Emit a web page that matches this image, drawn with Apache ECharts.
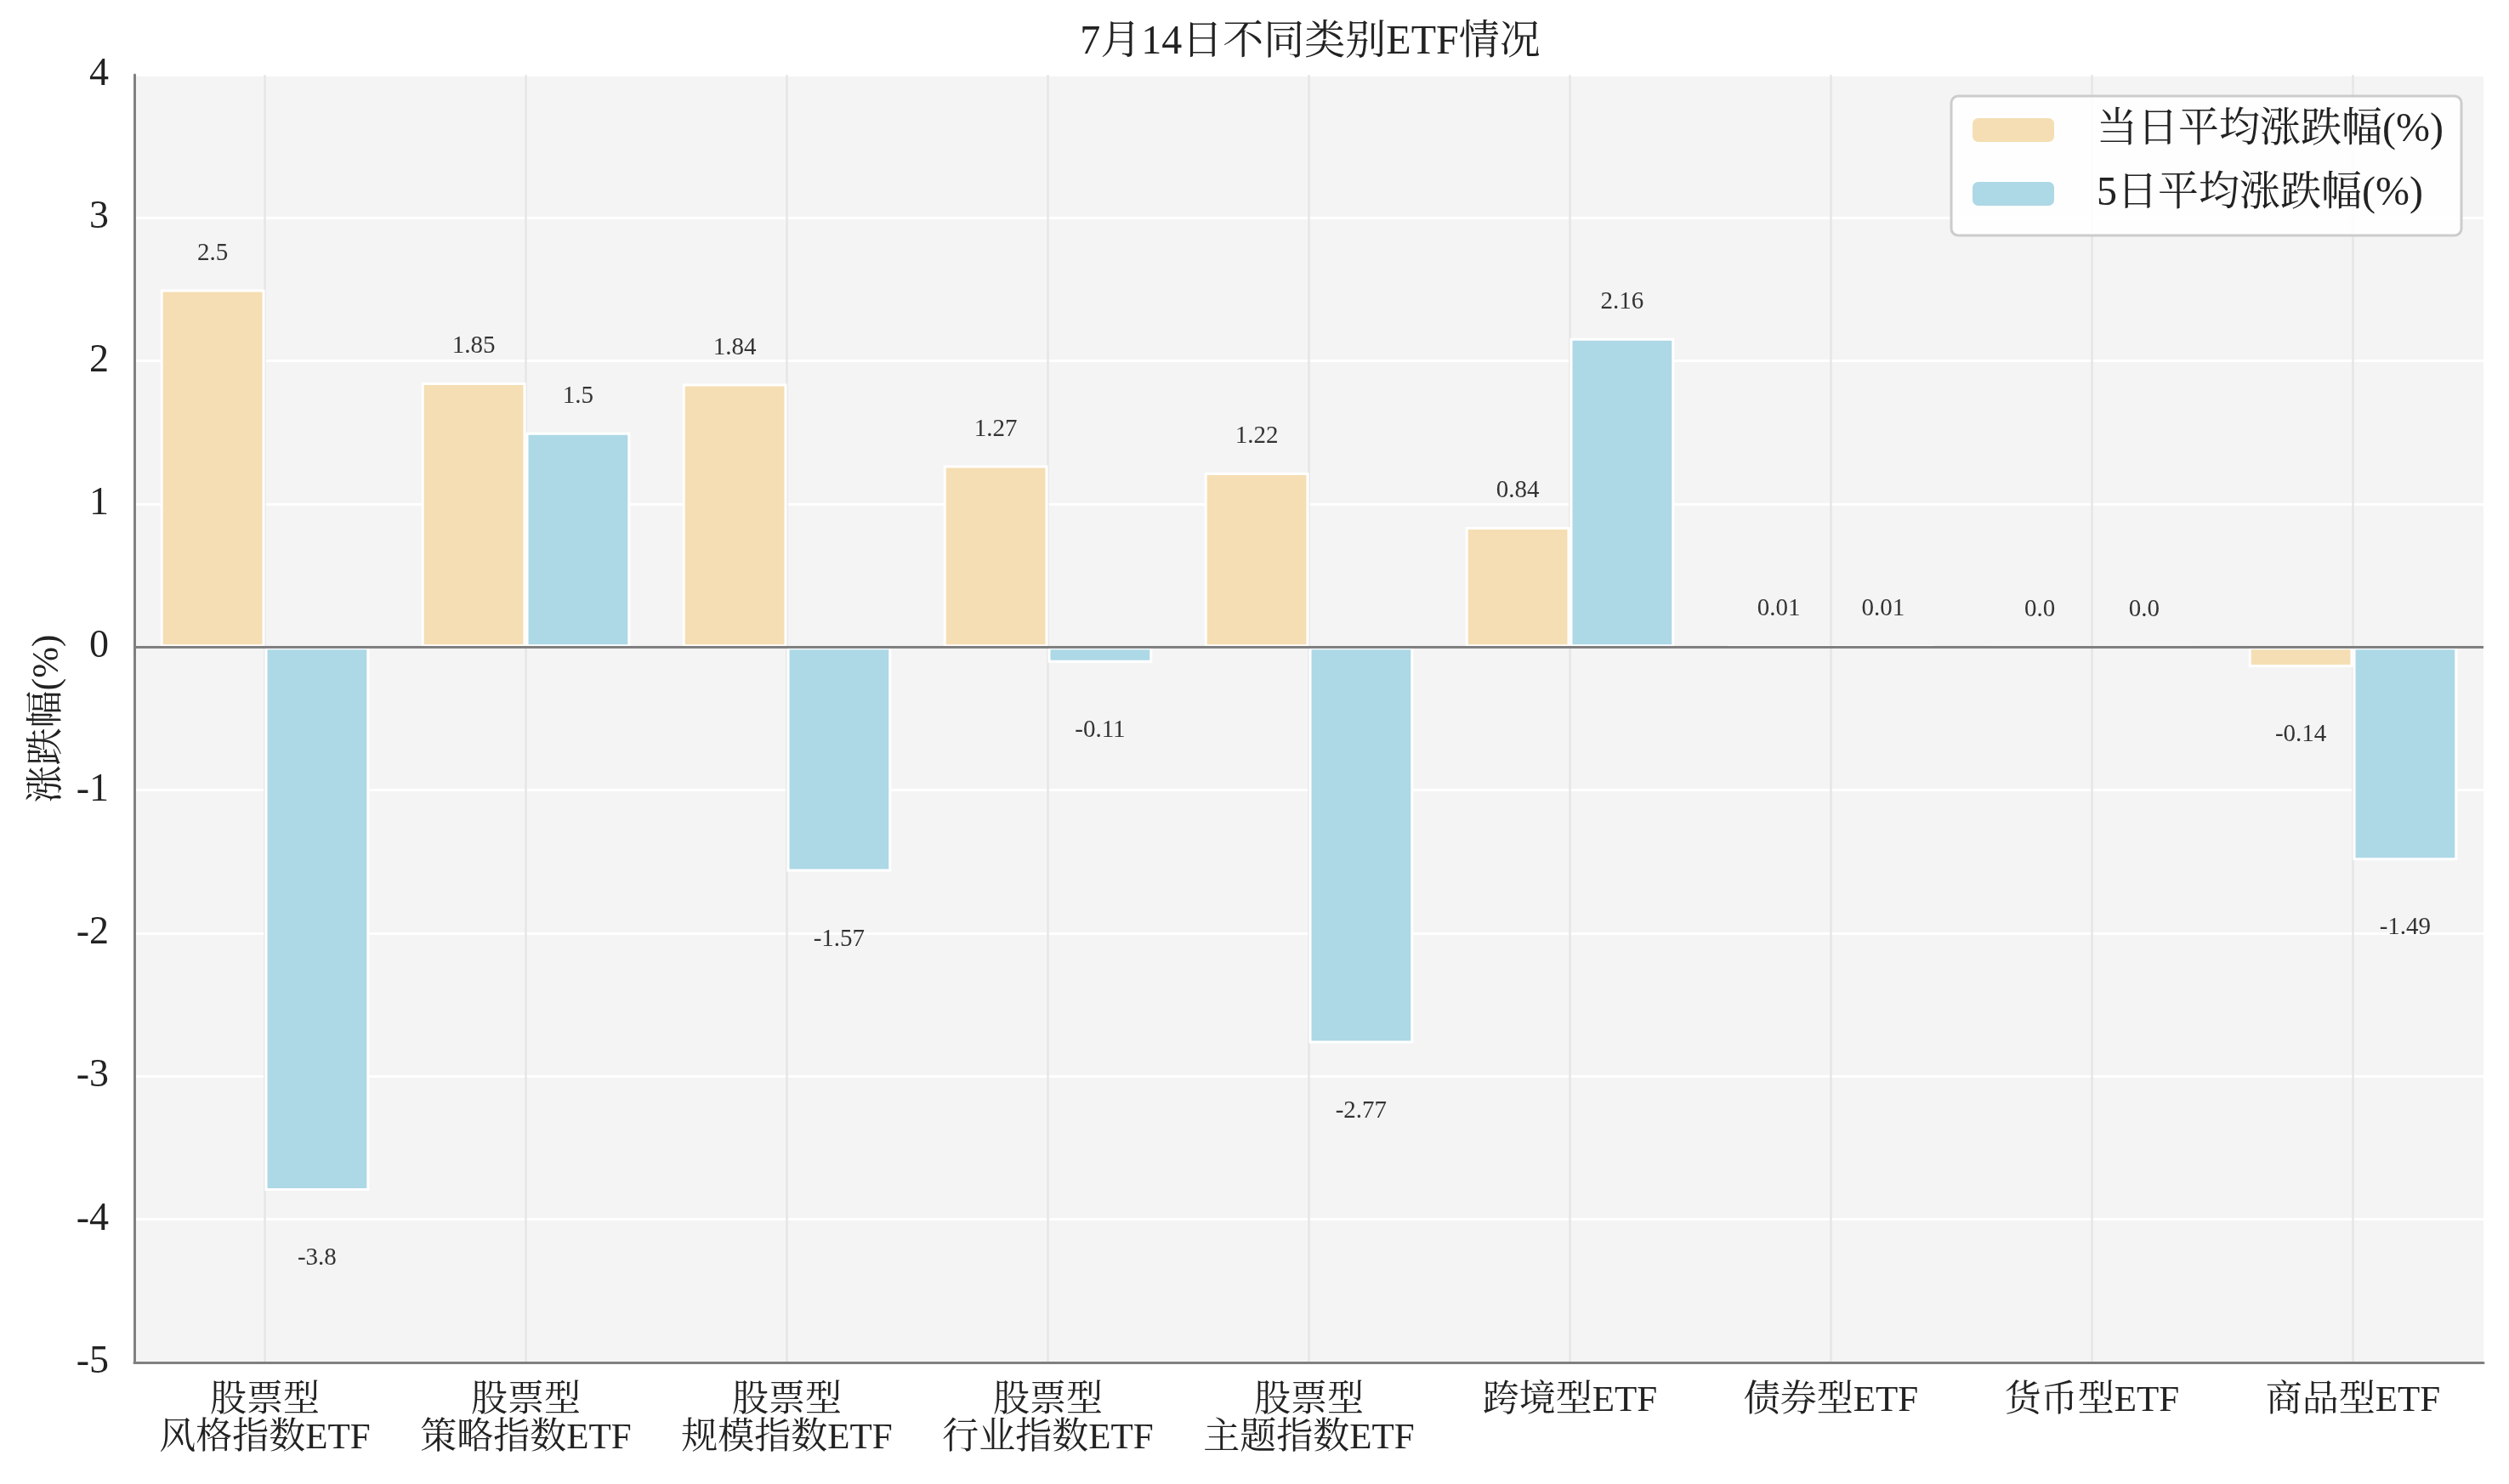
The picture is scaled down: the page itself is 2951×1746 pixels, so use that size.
<!DOCTYPE html>
<html>
<head>
<meta charset="utf-8">
<script src="https://cdn.jsdelivr.net/npm/echarts@6/dist/echarts.min.js"></script>
<style>
html,body{margin:0;padding:0;background:#fff;}
#chart{width:2951px;height:1746px;}
</style>
</head>
<body>
<div id="chart"></div>
<script>
const categories = ['股票型\n风格指数ETF','股票型\n策略指数ETF','股票型\n规模指数ETF','股票型\n行业指数ETF','股票型\n主题指数ETF','跨境型ETF','债券型ETF','货币型ETF','商品型ETF'];
const dailyAvg = [2.5, 1.85, 1.84, 1.27, 1.22, 0.84, 0.01, 0.0, -0.14];
const fiveDayAvg = [-3.8, 1.5, -1.57, -0.11, -2.77, 2.16, 0.01, 0.0, -1.49];
const seriesNames = ['当日平均涨跌幅(%)', '5日平均涨跌幅(%)'];
const yTicks = {min: -5, max: 4, interval: 1};
const titleText = '7月14日不同类别ETF情况';
const yName = '涨跌幅(%)';

const FONT = "'Liberation Serif', 'Noto Serif CJK SC', 'Noto Sans CJK SC', serif";

function fmt(v){ return Number.isInteger(v) ? v.toFixed(1) : String(v); }

function makeData(arr){
  return arr.map(v => ({
    value: v,
    label: v < 0 ? {position: 'bottom', distance: 65} : {position: 'top', distance: 28}
  }));
}

const labelCommon = {
  show: true,
  fontFamily: FONT,
  fontSize: 29,
  color: '#333',
  formatter: p => fmt(p.value)
};

const chart = echarts.init(document.getElementById('chart'), null, {renderer: 'canvas'});
chart.setOption({
  animation: false,
  backgroundColor: '#ffffff',
  textStyle: {fontFamily: FONT},
  title: {
    text: titleText,
    left: 1536, textAlign: 'center',
    top: 21,
    textStyle: {fontFamily: FONT, fontSize: 48, fontWeight: 'normal', color: '#222'}
  },
  legend: {
    orient: 'vertical',
    right: 56, top: 113,
    itemWidth: 98, itemHeight: 30,
    itemGap: 25,
    padding: [15, 21, 24, 23],
    backgroundColor: 'rgba(255,255,255,0.85)',
    borderColor: '#cccccc', borderWidth: 3, borderRadius: 8,
    textStyle: {fontFamily: FONT, fontSize: 48, lineHeight: 50, color: '#222', padding: [0, 0, 0, 44]},
    data: seriesNames
  },
  grid: {left: 158, right: 30, top: 88, bottom: 143, show: true, backgroundColor: '#f4f4f4', borderWidth: 0},
  xAxis: {
    type: 'category',
    data: categories,
    boundaryGap: true,
    axisLine: {show: true, onZero: false, lineStyle: {color: '#808080', width: 3}},
    axisTick: {show: false},
    axisLabel: {fontFamily: FONT, fontSize: 43, color: '#222', lineHeight: 44, margin: 24, interval: 0},
    splitLine: {show: true, alignWithLabel: true, lineStyle: {color: '#e6e6e6', width: 2.5}}
  },
  yAxis: {
    type: 'value',
    min: yTicks.min, max: yTicks.max, interval: yTicks.interval,
    name: yName,
    nameLocation: 'middle',
    nameRotate: 90,
    nameGap: 76,
    nameTextStyle: {fontFamily: FONT, fontSize: 44, color: '#222'},
    axisLine: {show: true, lineStyle: {color: '#808080', width: 3}},
    axisTick: {show: false},
    axisLabel: {fontFamily: FONT, fontSize: 46, color: '#222', margin: 30},
    splitLine: {show: true, lineStyle: {color: '#ffffff', width: 3}}
  },
  series: [
    {
      name: seriesNames[0],
      type: 'bar',
      data: makeData(dailyAvg),
      barWidth: '40%',
      barGap: '0%',
      itemStyle: {color: '#F5DEB3', borderColor: '#ffffff', borderWidth: 3},
      label: labelCommon,
      markLine: {
        silent: true,
        symbol: 'none',
        label: {show: false},
        lineStyle: {color: '#808080', width: 3, type: 'solid'},
        data: [{yAxis: 0}]
      }
    },
    {
      name: seriesNames[1],
      type: 'bar',
      data: makeData(fiveDayAvg),
      barWidth: '40%',
      barGap: '0%',
      itemStyle: {color: '#ADD8E6', borderColor: '#ffffff', borderWidth: 3},
      label: labelCommon
    }
  ]
});
</script>
</body>
</html>
